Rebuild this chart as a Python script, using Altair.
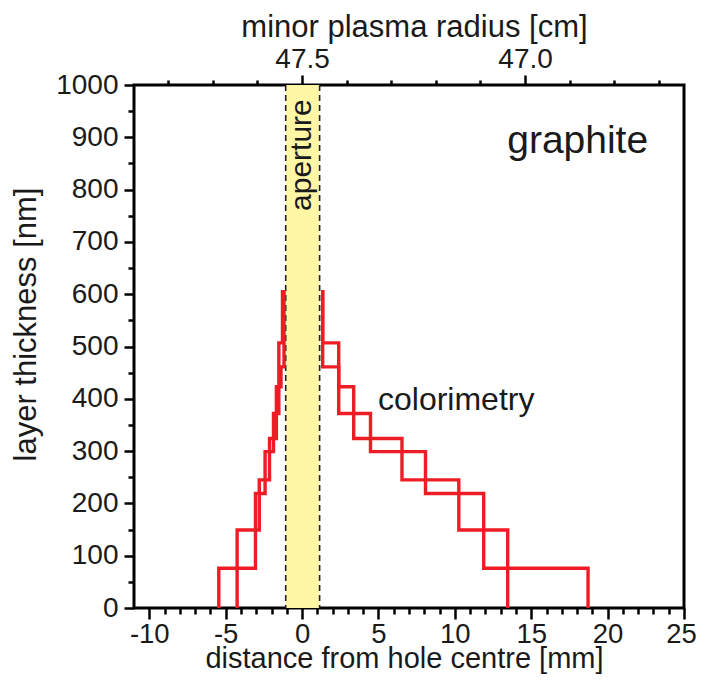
import altair as alt
import pandas as pd

# ---- data ----
# step profiles of layer thickness: step edge positions [mm], levels [nm]
left_a_x = [-5.45, -3.05, -2.42, -1.87, -1.52, -1.28]
left_a_h = [76, 219, 299, 372, 507, 608]
left_b_x = [-4.25, -2.80, -2.13, -1.68, -1.38, -1.18]
left_b_h = [149, 245, 324, 423, 461, 608]
right_a_x = [1.35, 2.40, 4.48, 8.08, 11.89, 18.72]
right_a_h = [608, 507, 372, 299, 219, 76]
right_b_x = [1.35, 2.40, 3.38, 6.54, 10.26, 13.46]
right_b_h = [608, 461, 423, 324, 245, 149]

aperture_edges = [-1.07, 1.15]
x_ticks = list(range(-10, 26))
y_ticks = list(range(0, 1001, 50))
radius_ticks = [47.8, 47.7, 47.6, 47.5, 47.4, 47.3, 47.2, 47.1, 47.0, 46.9, 46.8, 46.7]
radius_at_zero = 47.5
cm_per_mm = 0.03425

labels = pd.DataFrame({
    "x": [18.04, 10.09],
    "y": [870, 379],
    "text": ["graphite", "colorimetry"],
    "size": [39, 32],
})

# ---- build step polylines ----
rows = []
def left_path(name, xs, hs):
    prev = 0
    k = 0
    for x, h in zip(xs, hs):
        rows.append({"series": name, "order": k, "x": x, "y": prev}); k += 1
        rows.append({"series": name, "order": k, "x": x, "y": h}); k += 1
        prev = h

def right_path(name, xs, hs):
    k = 0
    nxt = hs[1:] + [0]
    for x, h, h2 in zip(xs, hs, nxt):
        rows.append({"series": name, "order": k, "x": x, "y": h}); k += 1
        rows.append({"series": name, "order": k, "x": x, "y": h2}); k += 1

left_path("left_a", left_a_x, left_a_h)
left_path("left_b", left_b_x, left_b_h)
right_path("right_a", right_a_x, right_a_h)
right_path("right_b", right_b_x, right_b_h)
steps = pd.DataFrame(rows)

FONT = "Liberation Sans"
INK = "#1a1a1a"
x_dom = [-11, 25]
xs = alt.Scale(domain=x_dom, nice=False, zero=False)
ys = alt.Scale(domain=[0, 1000], nice=False, zero=False)

x_axis = alt.Axis(
    values=x_ticks, tickCount=200, domain=False, grid=False, labelOverlap=False,
    labelBound=False, labelFlush=False,
    tickSize={"condition": {"test": "datum.value % 5 === 0", "value": 11}, "value": 6},
    tickWidth=2.5, tickColor="black",
    labelExpr="datum.value % 5 === 0 ? toString(datum.value) : ''",
    labelOffset={"condition": {"test": "datum.value === 25", "value": -3}, "value": 0},
    labelFont=FONT, labelFontSize=27.5, labelColor=INK, labelPadding=1,
    title="distance from hole centre [mm]", titleFont=FONT, titleFontSize=29,
    titleFontWeight="normal", titleColor=INK, titlePadding=-3, titleX=270,
)
y_axis = alt.Axis(
    values=y_ticks, tickCount=200, domain=False, grid=False, labelOverlap=False,
    labelBound=False, labelFlush=False,
    tickSize={"condition": {"test": "datum.value % 100 === 0", "value": 10}, "value": 6},
    tickWidth=2.5, tickColor="black",
    labelExpr="datum.value % 100 === 0 ? toString(datum.value) : ''",
    labelFont=FONT, labelFontSize=28, labelColor=INK, labelPadding=6,
    title="layer thickness [nm]", titleFont=FONT, titleFontSize=31,
    titleFontWeight="normal", titleColor=INK, titlePadding=13, titleY=239,
)

aperture = pd.DataFrame({"x": [aperture_edges[0]], "x2": [aperture_edges[1]]})
band = alt.Chart(aperture).mark_rect(color="#fff6a6").encode(
    x=alt.X("x:Q", scale=xs, axis=x_axis), x2="x2:Q",
    y=alt.value(0), y2=alt.value(523),
)
edges = pd.DataFrame({"x": aperture_edges})
dashes = alt.Chart(edges).mark_rule(color="#222", strokeWidth=1.6, strokeDash=[6, 4]).encode(
    x=alt.X("x:Q", scale=xs), y=alt.value(0), y2=alt.value(523),
)
lines = alt.Chart(steps).mark_line(color="#ee1c25", strokeWidth=3.4, strokeJoin="miter").encode(
    x=alt.X("x:Q", scale=xs),
    y=alt.Y("y:Q", scale=ys, axis=y_axis),
    detail="series:N",
    order="order:Q",
)
txt = alt.Chart(labels).mark_text(font=FONT, color=INK, align="center", baseline="alphabetic").encode(
    x=alt.X("x:Q", scale=xs), y=alt.Y("y:Q", scale=ys),
    text="text:N", size=alt.Size("size:Q", scale=None, legend=None),
)
main = alt.layer(band, dashes, lines, txt)

# top axis: minor plasma radius (linear relation to distance)
r_lo = radius_at_zero - x_dom[1] * cm_per_mm
r_hi = radius_at_zero - x_dom[0] * cm_per_mm
ap_label = pd.DataFrame({"r": [radius_at_zero], "y": [866], "text": ["aperture"]})
top = alt.Chart(ap_label).mark_text(
    font=FONT, fontSize=30, color=INK, angle=270, align="center", baseline="middle"
).encode(
    x=alt.X("r:Q", scale=alt.Scale(domain=[r_lo, r_hi], reverse=True, nice=False, zero=False),
            axis=alt.Axis(
                orient="top", values=radius_ticks, tickCount=200, domain=False, grid=False,
                labelOverlap=False, labelBound=False, labelFlush=False,
                tickSize={"condition": {"test": "abs(datum.value*2 - round(datum.value*2)) < 0.001", "value": 10}, "value": 5},
                tickWidth=2.5, tickColor="black",
                labelExpr="abs(datum.value*2 - round(datum.value*2)) < 0.001 ? format(datum.value, '.1f') : ''",
                labelFont=FONT, labelFontSize=28, labelColor=INK, labelPadding=2,
                title="minor plasma radius [cm]", titleFont=FONT, titleFontSize=31,
                titleFontWeight="normal", titleColor=INK, titlePadding=2, titleX=280,
            )),
    y=alt.Y("y:Q", scale=ys),
    text="text:N",
)

chart = alt.layer(main, top).resolve_scale(x="independent").properties(
    width=550, height=523,
    autosize=alt.AutoSizeParams(type="none"),
    padding={"left": 126, "top": 77, "right": 14, "bottom": 69},
    background="white",
).configure_view(stroke="black", strokeWidth=3)

chart.save("out.html", embed_options={"renderer": "svg", "actions": False})
